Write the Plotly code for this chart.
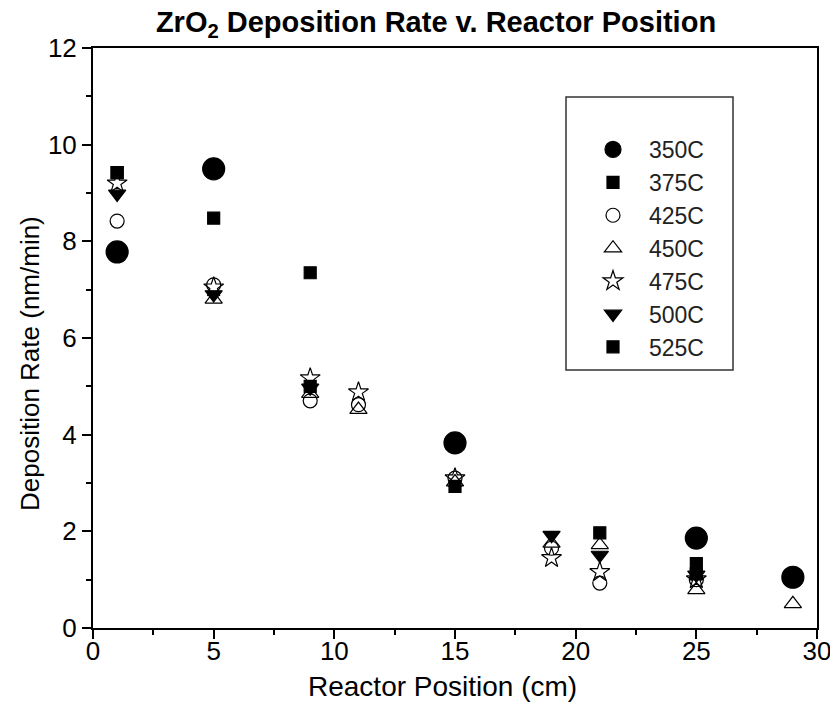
import plotly.graph_objects as go

# ---- data ----
names = ["350C", "375C", "425C", "450C", "475C", "500C", "525C"]

x350 = [1, 5, 15, 25, 29]
y350 = [7.78, 9.50, 3.83, 1.86, 1.05]

x375 = [1, 5, 9, 15, 21, 25]
y375 = [9.42, 8.48, 7.35, 2.93, 1.97, 1.33]

x425 = [1, 5, 9, 11, 15, 19, 21, 25, 29]
y425 = [8.42, 7.10, 4.70, 4.62, 3.10, 1.65, 0.93, 1.00, 1.05]

x450 = [5, 9, 11, 15, 19, 21, 25, 29]
y450 = [6.80, 4.85, 4.52, 3.02, 1.75, 1.72, 0.79, 0.50]

x475 = [1, 5, 9, 11, 15, 19, 21, 25]
y475 = [9.20, 7.05, 5.17, 4.88, 3.10, 1.45, 1.16, 1.01]

x500 = [1, 5, 9, 19, 21, 25]
y500 = [8.98, 6.90, 4.97, 1.92, 1.51, 1.10]

x525 = [1, 9, 25]
y525 = [9.42, 5.00, 1.12]

xs = [x350, x375, x425, x450, x475, x500, x525]
ys = [y350, y375, y425, y450, y475, y500, y525]
symbols = ["circle", "square", "circle-open", "triangle-up-open", "star-open",
           "triangle-down", "square"]
sizes = [22, 12, 14, 15, 15, 15, 12]

x_title = "Reactor Position (cm)"
y_title = "Deposition Rate (nm/min)"
main_title = "<b>ZrO<sub>2</sub> Deposition Rate v. Reactor Position</b>"

fig = go.Figure()
for i in range(len(names)):
    fig.add_trace(go.Scatter(
        x=xs[i], y=ys[i], mode="markers", name=names[i],
        legendgroup=names[i],
        marker=dict(symbol=symbols[i], size=sizes[i], color="black",
                    line=dict(color="black", width=1.2)),
    ))

font = "Liberation Sans, Arial, sans-serif"
L, R, T, B = 93, 817, 48, 628
W, H = R - L, B - T

fig.update_layout(
    width=830, height=713,
    margin=dict(l=L, r=830 - R, t=T, b=713 - B),
    paper_bgcolor="white", plot_bgcolor="white",
    title=dict(text=main_title,
               x=436 / 830, xanchor="center", y=1 - 22 / 713, yanchor="middle",
               font=dict(family=font, size=29, color="black")),
    showlegend=True,
    legend=dict(x=(577 - L) / W, y=(B - 128) / H, xanchor="left", yanchor="top",
                bgcolor="rgba(0,0,0,0)", borderwidth=0,
                tracegroupgap=0, itemwidth=62,
                font=dict(family=font, size=23, color="#222")),
    shapes=[dict(type="rect", xref="paper", yref="paper",
                 x0=(566 - L) / W, x1=(733 - L) / W,
                 y0=(B - 370) / H, y1=(B - 97) / H,
                 line=dict(color="#333", width=1.5))],
    annotations=[
        dict(text=x_title, xref="paper", yref="paper",
             x=(442 - L) / W, y=(B - 686) / H, xanchor="center", yanchor="middle",
             showarrow=False, font=dict(family=font, size=28, color="black")),
        dict(text=y_title, xref="paper", yref="paper", textangle=-90,
             x=(30 - L) / W, y=(B - 364) / H, xanchor="center", yanchor="middle",
             showarrow=False, font=dict(family=font, size=26, color="black")),
    ],
)

fig.update_xaxes(
    range=[0, 30], tickmode="array", tickvals=[0, 5, 10, 15, 20, 25, 30],
    ticks="outside", ticklen=9, tickwidth=2, tickcolor="black",
    minor=dict(tickvals=[2.5, 7.5, 12.5, 17.5, 22.5, 27.5], ticks="outside",
               ticklen=5, tickwidth=2, tickcolor="black"),
    showline=True, linecolor="black", linewidth=2, mirror=True,
    showgrid=False, zeroline=False, automargin=False, ticklabeloverflow="allow",
    ticklabelstandoff=-10,
    tickfont=dict(family=font, size=26, color="black"),
)
fig.update_yaxes(
    range=[0, 12], tickmode="array", tickvals=[0, 2, 4, 6, 8, 10, 12],
    ticks="outside", ticklen=9, tickwidth=2, tickcolor="black",
    minor=dict(tickvals=[1, 3, 5, 7, 9, 11], ticks="outside",
               ticklen=5, tickwidth=2, tickcolor="black"),
    showline=True, linecolor="black", linewidth=2, mirror=True,
    showgrid=False, zeroline=False, automargin=False, ticklabeloverflow="allow",
    tickfont=dict(family=font, size=26, color="black"),
)

fig.write_html("out.html")
